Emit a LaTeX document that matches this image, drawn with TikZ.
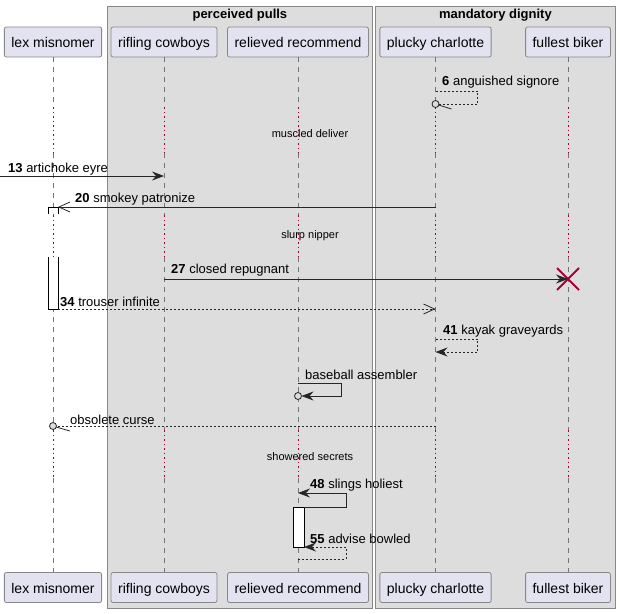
\documentclass[tikz,border=0pt]{standalone}
\usepackage{fontspec}
\setmainfont{Liberation Sans}
\usetikzlibrary{calc, arrows.meta, shapes.misc}
\definecolor{grpfill}{HTML}{DDDDDD}
\definecolor{grpline}{HTML}{888888}
\definecolor{boxfill}{HTML}{E2E2F0}
\definecolor{delayred}{HTML}{A80036}

\begin{document}
\begin{tikzpicture}[x=1pt,y=-1pt]
\tikzstyle{grp}=[draw=grpline,fill=grpfill,line width=0.8pt,inner sep=0pt,anchor=north west]
\tikzstyle{gtitle}=[inner sep=0pt,font=\fontsize{13}{15}\selectfont\bfseries]
\tikzstyle{pbox}=[draw=grpline,fill=boxfill,line width=0.8pt,rounded corners=2pt,minimum height=30pt,inner xsep=7pt,text height=11pt,text depth=0pt,font=\fontsize{14}{16}\selectfont]
\tikzstyle{lifeln}=[draw=black!55,line width=1pt,dash pattern=on 5pt off 5pt]
\tikzstyle{delayln}=[draw=delayred,line width=1pt,dash pattern=on 1.5pt off 3pt]
\tikzstyle{dtext}=[inner sep=0pt,font=\fontsize{11}{13}\selectfont]
\tikzstyle{lbl}=[anchor=west,inner sep=0pt,yshift=-1.5pt,font=\fontsize{13}{15}\selectfont]
\tikzstyle{sync}=[draw=black!85,line width=0.8pt,-{Stealth[length=12pt,width=9pt,inset=4pt]}]
\tikzstyle{opn}=[draw=black!85,line width=0.8pt,-{Straight Barb[length=11pt,width=10pt]}]
\tikzstyle{dsh}=[dash pattern=on 2pt off 2pt]
\tikzstyle{act}=[draw=black,fill=white,line width=0.8pt]
\tikzstyle{lost}=[draw=black!85,line width=0.8pt,fill=grpfill]

\fill[white] (0,0) rectangle (620,613);
\useasboundingbox (0,0) rectangle (620,613);

% groups
\node[grp,minimum width=265pt,minimum height=602pt] (g1) at (107,6) {};
\node[grp,minimum width=240pt,minimum height=602pt] (g2) at (375,6) {};
\node[gtitle] (g1t) at (g1.north |- 0,15) {perceived pulls};
\node[gtitle] (g2t) at (g2.north |- 0,15) {mandatory dignity};

% participants
\foreach \n/\x/\t in {lex/53/lex misnomer, rc/164/rifling cowboys, rr/298/relieved recommend, pc/435.5/plucky charlotte, fb/568/fullest biker} {
  \node[pbox] (\n T) at (\x,42) {\t};
  \node[pbox] (\n B) at (\x,587.5) {\t};
}

% delays
\coordinate (d1a) at (0,107);
\coordinate (d1b) at (0,153);
\coordinate (d2a) at (0,215);
\coordinate (d2b) at (0,257);
\coordinate (d3a) at (0,430);
\coordinate (d3b) at (0,478);

\foreach \n in {lex,rc,rr,pc,fb} {
  \draw[lifeln] (\n T.south) -- (\n T.south |- d1a);
  \draw[delayln] (\n T.south |- d1a) -- (\n T.south |- d1b);
  \draw[lifeln] (\n T.south |- d1b) -- (\n T.south |- d2a);
  \draw[delayln] (\n T.south |- d2a) -- (\n T.south |- d2b);
  \draw[lifeln] (\n T.south |- d2b) -- (\n T.south |- d3a);
  \draw[delayln] (\n T.south |- d3a) -- (\n T.south |- d3b);
  \draw[lifeln] (\n T.south |- d3b) -- (\n B.north);
}

\node[dtext] (dl1) at (310,134) {muscled deliver};
\node[dtext] (dl2) at (310,236) {slurp nipper};
\node[dtext] (dl3) at (310,457) {showered secrets};

% 6 anguished signore
\coordinate (m6) at (pcT |- 0,91);
\coordinate (o6) at (pcT |- 0,104);
\draw[draw=black!85,line width=0.8pt,dsh] (m6) -- ++(42,0) -- ++(0,13) -- ($(o6)+(3.5,0)$);
\draw[lost] (o6) circle (3.5);
\draw[draw=black!85,line width=0.8pt] ($(o6)+(3,1)$) -- ++(13,4);
\node[lbl] (l6) at (442,81) {\textbf{6} anguished signore};

% 13 artichoke eyre
\coordinate (in13) at (0,176);
\draw[sync] (in13) -- (rcT |- in13);
\node[lbl] (l13) at (8,168) {\textbf{13} artichoke eyre};

% activation lex
\coordinate (a20) at (lexT |- 0,207);
\coordinate (a34) at (lexT |- 0,309);
\filldraw[act] ($(a20)+(-5,7)$) -- ++(0,-7) -- ++(10,0) -- ++(0,7);
\filldraw[act] ($(lexT |- d2b)+(-5,0)$) -- ($(a34)+(-5,0)$) -- ($(a34)+(5,0)$) -- ($(lexT |- d2b)+(5,0)$);

% 20 smokey patronize
\draw[opn] (pcT |- a20) -- ($(a20)+(5,0)$);
\node[lbl] (l20) at (75,198) {\textbf{20} smokey patronize};

% 27 closed repugnant
\coordinate (m27) at (0,279);
\node[cross out,draw=delayred,line width=2pt,minimum size=20pt,inner sep=0pt] (x27) at (fbT |- m27) {};
\draw[sync] (rcT |- m27) -- (x27.center);
\node[lbl] (l27) at (171,269) {\textbf{27} closed repugnant};

% 34 trouser infinite
\draw[opn,dsh] ($(a34)+(5,0)$) -- (pcT |- a34);
\node[lbl] (l34) at (60,300) {\textbf{34} trouser infinite};

% 41 kayak graveyards
\coordinate (m41) at (pcT |- 0,339);
\draw[sync,dsh] (m41) -- ++(42,0) -- ++(0,13) -- ++(-42,0);
\node[lbl] (l41) at (443,330) {\textbf{41} kayak graveyards};

% baseball assembler
\coordinate (m44) at (rrT |- 0,383);
\coordinate (o44) at (rrT |- 0,396);
\draw[sync] (m44) -- ++(43,0) -- ++(0,13) -- ($(o44)+(3.5,0)$);
\draw[lost] (o44) circle (3.5);
\node[lbl] (l44) at (305,373) {baseball assembler};

% obsolete curse
\coordinate (o46) at (lexT |- 0,426);
\draw[draw=black!85,line width=0.8pt,dsh] (pcT |- o46) -- ($(o46)+(3.5,0)$);
\draw[lost] (o46) circle (3.5);
\draw[draw=black!85,line width=0.8pt] ($(o46)+(3,1)$) -- ++(14,4);
\node[lbl] (l46) at (70,418) {obsolete curse};

% activation relieved
\coordinate (a48) at (rrT |- 0,507);
\coordinate (a55) at (rrT |- 0,547);
\filldraw[act] ($(a48)+(-5,0)$) rectangle ($(a55)+(6,0)$);

% 48 slings holiest
\draw[sync,{Stealth[length=12pt,width=9pt,inset=4pt]}-] (rrT |- 0,493) -- ++(48,0) -- ++(0,14) -- ($(a48)+(6,0)$);
\node[lbl] (l48) at (310,484) {\textbf{48} slings holiest};

% 55 advise bowled
\draw[sync,dsh,{Stealth[length=12pt,width=9pt,inset=4pt]}-] ($(a55)+(6,0)$) -- ++(42,0) -- ++(0,12) -- (rrT |- 0,559);
\node[lbl] (l55) at (310,537) {\textbf{55} advise bowled};
\end{tikzpicture}
\end{document}
